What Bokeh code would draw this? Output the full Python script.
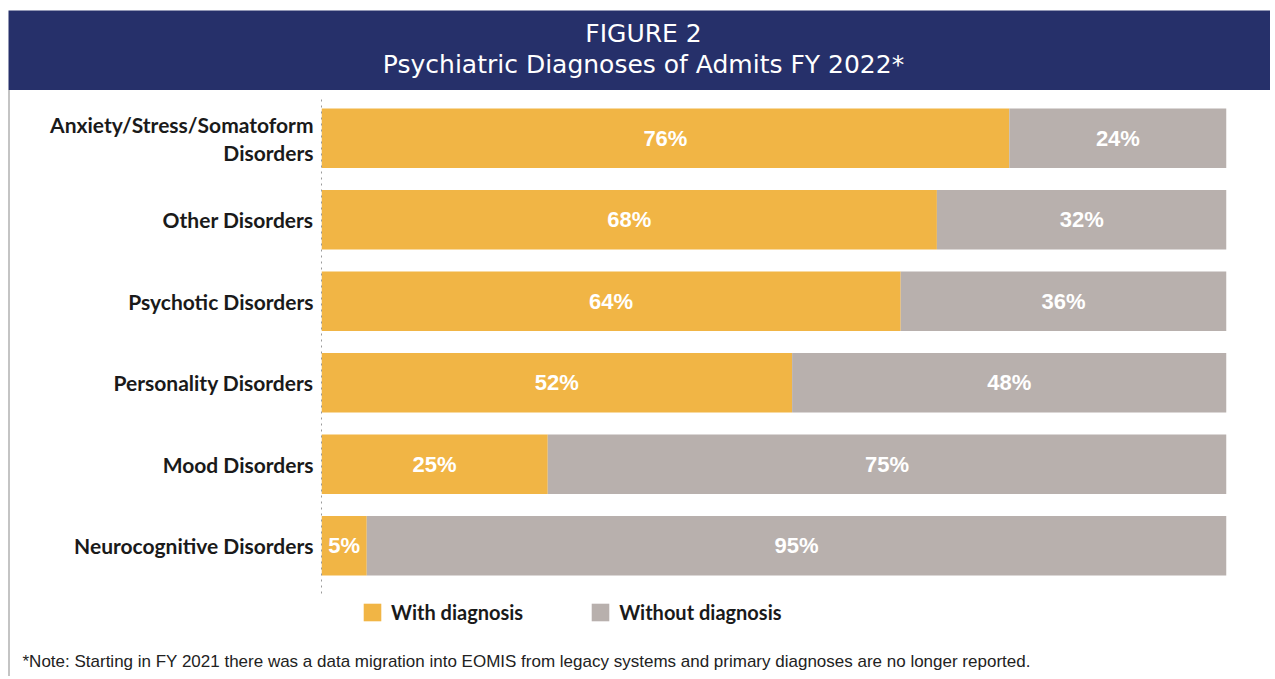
from bokeh.plotting import figure
from bokeh.layouts import column
from bokeh.models import (ColumnDataSource, Legend, LegendItem, Range1d, FixedTicker)
from bokeh.core.properties import value
from bokeh.embed import file_html
from bokeh.resources import INLINE

categories = ["Anxiety/Stress/Somatoform\nDisorders", "Other Disorders", "Psychotic Disorders",
              "Personality Disorders", "Mood Disorders", "Neurocognitive Disorders"]
with_dx = [76, 68, 64, 52, 25, 5]
without_dx = [24, 32, 36, 48, 75, 95]
series_names = ["With diagnosis", "Without diagnosis"]
title_lines = ["FIGURE 2", "Psychiatric Diagnoses of Admits FY 2022*"]
note_text = ("*Note: Starting in FY 2021 there was a data migration into EOMIS from legacy systems "
             "and primary diagnoses are no longer reported.")

NAVY = "#26306a"
ORANGE = "#f1b545"
GRAY = "#b8b0ad"
FRAME_LINE = "#c4c4c4"
W = 1270
left_line_css = {"background": f"linear-gradient(to right, white 8px, {FRAME_LINE} 8px, "
                               f"{FRAME_LINE} 10px, white 10px)"}

# ---------------- header ----------------
header = figure(width=W, height=90, x_range=Range1d(0, W), y_range=Range1d(90, 0),
                x_axis_location=None, y_axis_location=None, toolbar_location=None,
                output_backend="svg", min_border=0)
header.outline_line_color = None
header.grid.visible = False
header.quad(left=[8], right=[W], top=[10], bottom=[90], fill_color=NAVY, line_color=None)
header.text(x=[643, 643], y=[33, 64], text=title_lines, text_align="center",
            text_baseline="middle", text_color="white", text_font=value("DejaVu Sans"),
            text_font_size="25px")

# ---------------- main chart ----------------
n = len(categories)
ypos = [n - 1 - i for i in range(n)]          # first category on top
p = figure(width=W, height=550, x_range=Range1d(0, 100),
           y_range=Range1d(-1.1626, n - 0.5), x_axis_location=None,
           toolbar_location=None, output_backend="svg",
           min_border_left=321, min_border_right=W - 1226,
           min_border_top=7, min_border_bottom=0, styles=left_line_css)
p.outline_line_color = None
p.grid.visible = False
p.border_fill_alpha = 0

src = ColumnDataSource(dict(y=ypos, w=with_dx, wo=without_dx))
rs = p.hbar_stack(["w", "wo"], y="y", height=0.73, color=[ORANGE, GRAY], source=src,
                  line_color=None)

lx, ly, lt = [], [], []
for yy, a, b in zip(ypos, with_dx, without_dx):
    lx += [a / 2, a + b / 2]
    ly += [yy, yy]
    lt += [f"{a}%", f"{b}%"]
p.text(x=lx, y=ly, text=lt, text_align="center", text_baseline="middle", text_color="white",
       text_font=value("Liberation Sans"), text_font_style="bold", text_font_size="22px")

ax = p.yaxis[0]
ax.ticker = FixedTicker(ticks=ypos)
ax.major_label_overrides = {yy: c for yy, c in zip(ypos, categories)}
ax.bounds = (-0.58, n - 0.5)
ax.axis_line_dash = "dotted"
ax.axis_line_color = "#9a9a9a"
ax.major_tick_line_color = None
ax.minor_tick_line_color = None
ax.major_label_text_font = "Lato"
ax.major_label_text_font_style = "bold"
ax.major_label_text_font_size = "21px"
ax.major_label_text_color = "#1a1a1a"
ax.major_label_text_line_height = 1.12
ax.major_label_standoff = 2

legend = Legend(items=[LegendItem(label=series_names[0], renderers=[rs[0]]),
                       LegendItem(label=series_names[1], renderers=[rs[1]])],
                orientation="horizontal", location=(40, 16), padding=0, margin=0,
                border_line_color=None, background_fill_alpha=0, glyph_width=22,
                glyph_height=22, label_text_font="Lato", label_text_font_style="bold",
                label_text_font_size="20px", label_text_color="#1a1a1a", label_standoff=8,
                spacing=66)
p.add_layout(legend)

# ---------------- note ----------------
note = figure(width=W, height=36, x_range=Range1d(0, W), y_range=Range1d(36, 0),
              x_axis_location=None, y_axis_location=None, toolbar_location=None,
              output_backend="svg", min_border=0, styles=left_line_css)
note.outline_line_color = None
note.grid.visible = False
note.border_fill_alpha = 0
note.background_fill_alpha = 0
note.text(x=[22], y=[21], text=[note_text], text_align="left", text_baseline="middle",
          text_color="#222222", text_font=value("Liberation Sans"), text_font_size="17px")

layout = column(column(header), p, column(note), spacing=0)
open("out.html", "w").write(file_html(layout, INLINE))
